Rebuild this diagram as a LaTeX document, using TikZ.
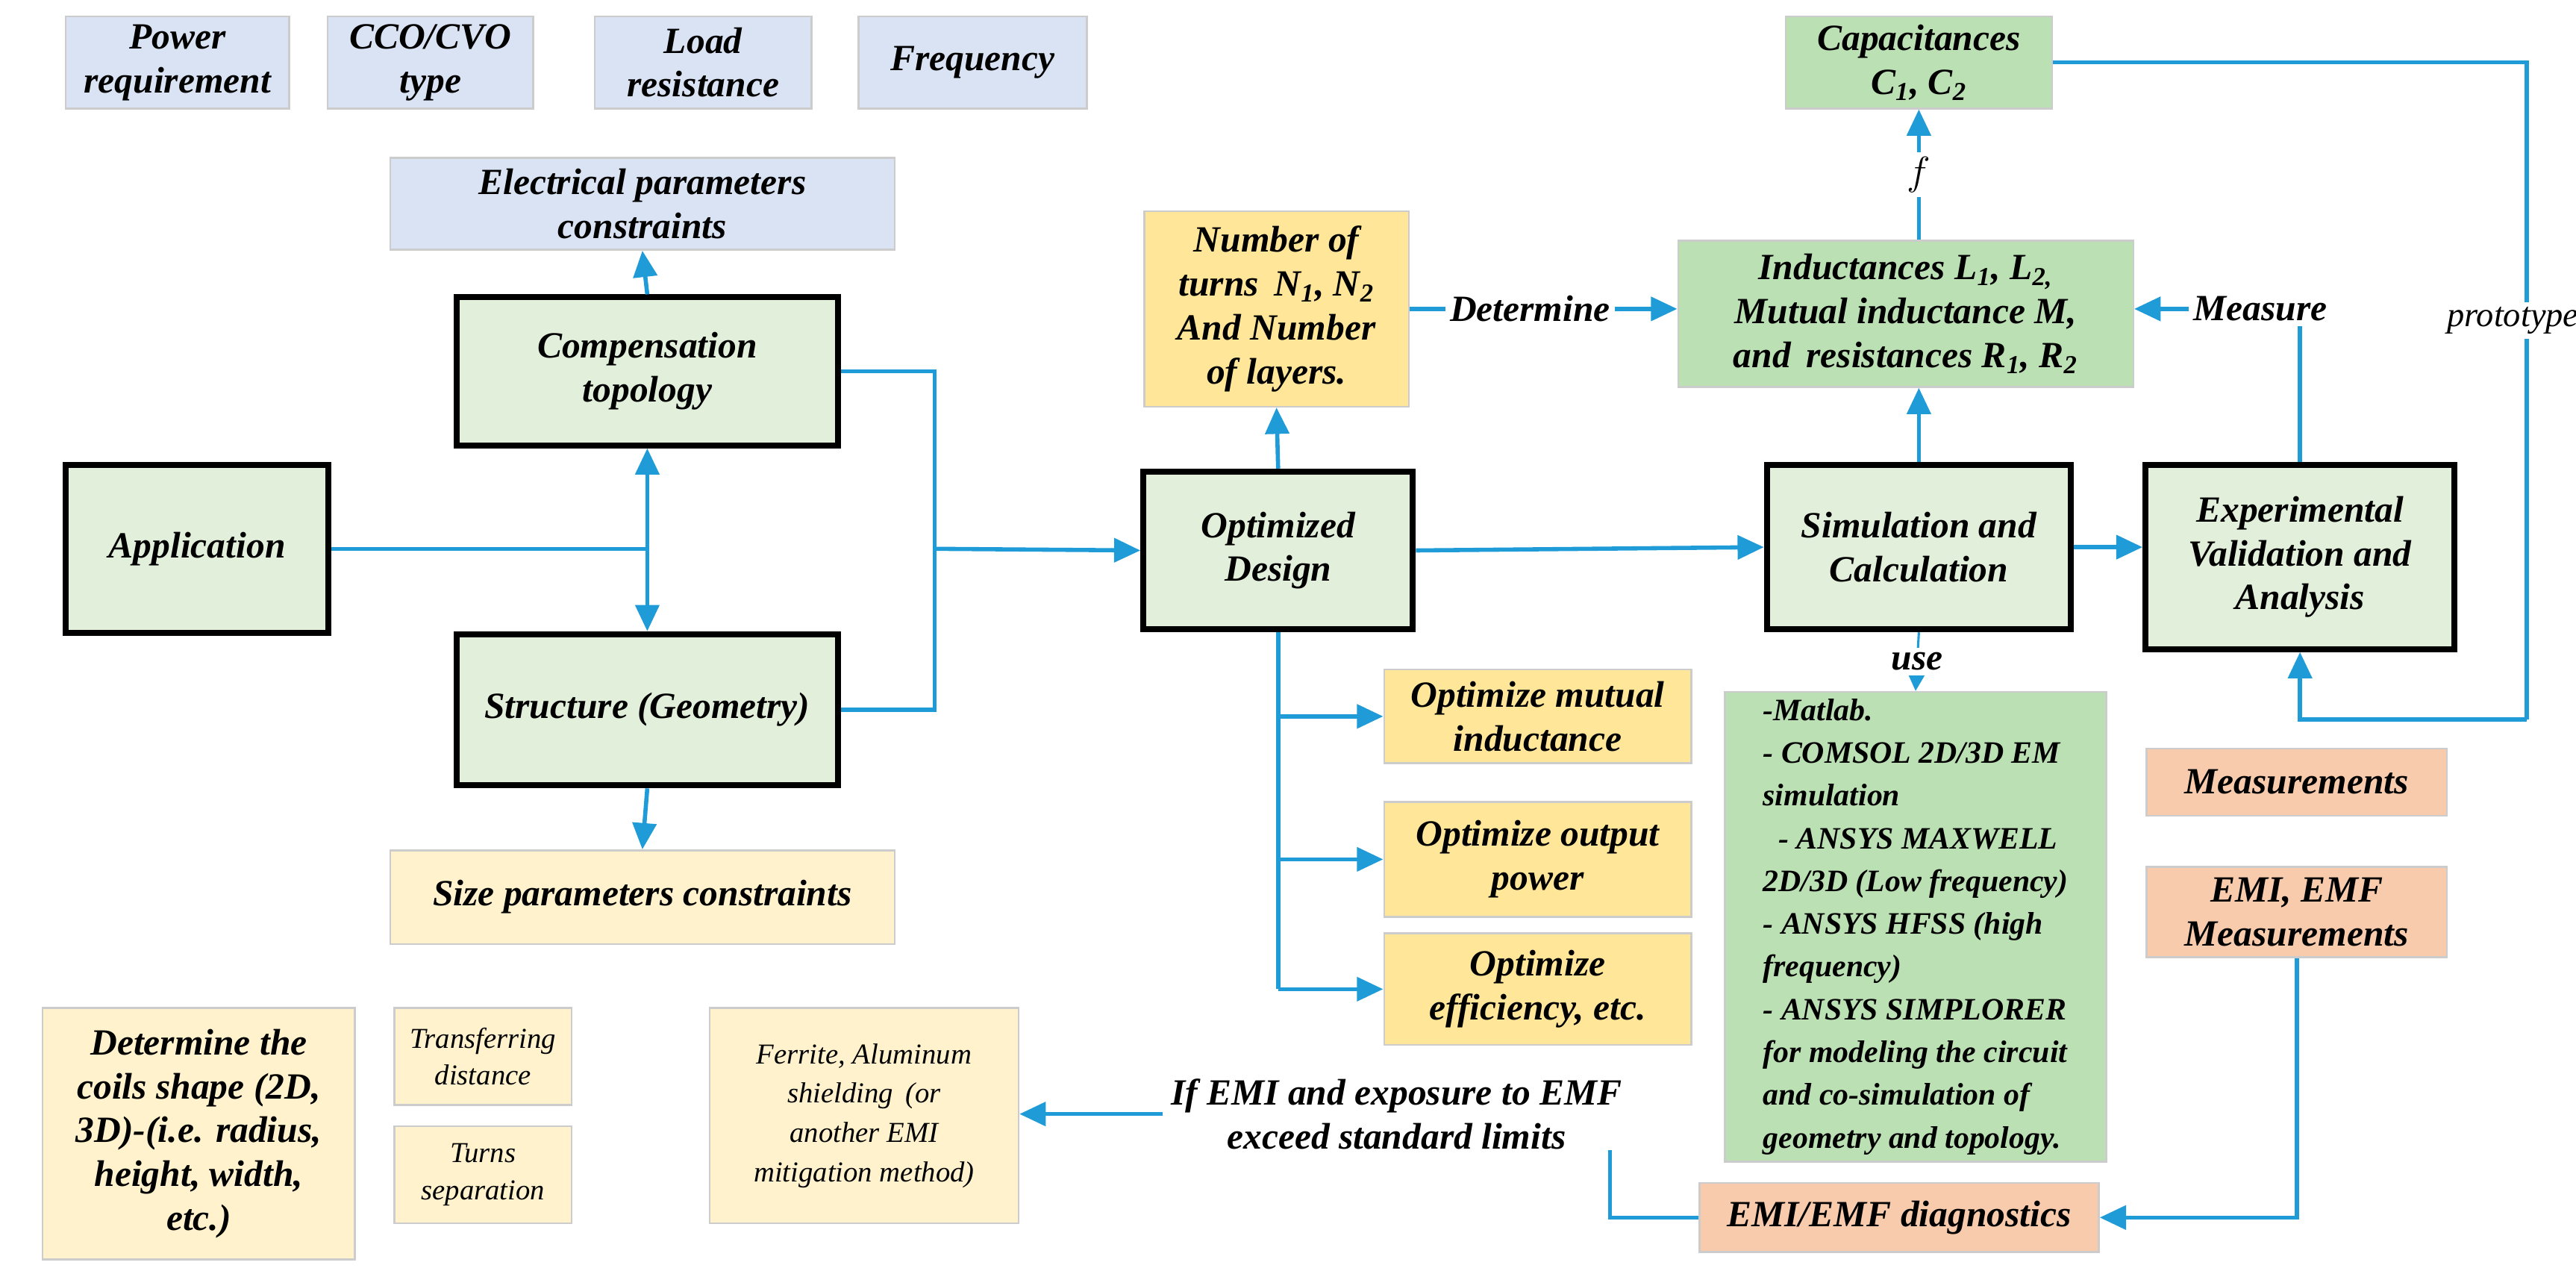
\documentclass[tikz,border=0pt]{standalone}
\usepackage{fontspec}
\setmainfont{Liberation Serif}
\usetikzlibrary{arrows.meta,positioning,calc}
\definecolor{linkblue}{HTML}{1F9BD7}
\definecolor{paleblue}{HTML}{DAE3F3}
\definecolor{palegreen}{HTML}{E2EFDA}
\definecolor{midgreen}{HTML}{BBE0B3}
\definecolor{gold}{HTML}{FFE699}
\definecolor{paleyellow}{HTML}{FFF2CC}
\definecolor{salmon}{HTML}{F8CBAD}
\begin{document}
\begin{tikzpicture}[
  x=0.025cm, y=-0.025cm,
  every node/.style={font=\fontsize{16}{19}\selectfont\bfseries\itshape},
  box/.style={draw=black!20, line width=0.8pt, align=center, inner sep=3pt},
  mainbox/.style={draw=black, line width=2.6pt, fill=palegreen, align=center},
  link/.style={draw=linkblue, line width=1.8pt},
  arrow/.style={link, -{Triangle[length=4mm,width=3.6mm]}},
  lbl/.style={fill=white, text=black, inner sep=2pt}
]
\useasboundingbox (0,0) rectangle (1568,775);
% input parameters
\node[box, fill=paleblue, minimum width=3.4cm, minimum height=1.4cm] (pow) at (108,38) {Power\\requirement};
\node[box, fill=paleblue, minimum width=3.125cm, minimum height=1.4cm] (cco) at (262,38) {CCO/CVO\\type};
\node[box, fill=paleblue, minimum width=3.3cm, minimum height=1.4cm] (load) at (428,38) {Load\\resistance};
\node[box, fill=paleblue, minimum width=3.475cm, minimum height=1.4cm] (freq) at (592,38) {Frequency};
\node[box, fill=paleblue, minimum width=7.675cm, minimum height=1.4cm] (elec) at (391,124) {Electrical parameters\\constraints};
% main blocks
\node[mainbox, minimum width=5.8cm, minimum height=2.25cm] (comp) at (394,226) {Compensation\\topology};
\node[mainbox, minimum width=4cm, minimum height=2.55cm] (app) at (120,334) {Application};
\node[mainbox, minimum width=5.8cm, minimum height=2.3cm] (struct) at (394,432) {Structure (Geometry)};
\node[box, fill=paleyellow, minimum width=7.675cm, minimum height=1.425cm] (size) at (391,546) {Size parameters constraints};
\node[mainbox, minimum width=4.1cm, minimum height=2.4cm] (opt) at (778,335) {Optimized\\Design};
\node[box, fill=gold, minimum width=4.025cm, minimum height=2.975cm] (turns) at (777,188) {Number of\\turns\, N\textsubscript{1}, N\textsubscript{2}\\And Number\\of layers.};
\node[box, fill=midgreen, minimum width=6.925cm, minimum height=2.225cm] (ind) at (1160,191) {Inductances L\textsubscript{1}, L\textsubscript{2,}\\Mutual inductance M,\\and\, resistances R\textsubscript{1}, R\textsubscript{2}};
\node[box, fill=midgreen, minimum width=4.05cm, minimum height=1.4cm] (cap) at (1168,38) {Capacitances\\C\textsubscript{1}, C\textsubscript{2}};
\node[mainbox, minimum width=4.625cm, minimum height=2.5cm] (sim) at (1168,333) {Simulation and\\Calculation};
\node[mainbox, minimum width=4.7cm, minimum height=2.8cm] (exp) at (1400,339) {Experimental\\Validation and\\Analysis};
% optimization targets
\node[box, fill=gold, minimum width=4.675cm, minimum height=1.425cm] (om) at (936,436) {Optimize mutual\\inductance};
\node[box, fill=gold, minimum width=4.675cm, minimum height=1.75cm] (op) at (936,523) {Optimize output\\power};
\node[box, fill=gold, minimum width=4.675cm, minimum height=1.7cm] (oe) at (936,602) {Optimize\\efficiency, etc.};
% tools and measurements
\node[box, fill=midgreen, minimum width=5.8cm, minimum height=6.625cm, align=left,
  font=\fontsize{13.5}{18.5}\selectfont\bfseries\itshape] (mat) at (1166,564)
  {-Matlab.\\- COMSOL 2D/3D EM\\simulation\\\ \ - ANSYS MAXWELL\\2D/3D (Low frequency)\\- ANSYS HFSS (high\\frequency)\\- ANSYS SIMPLORER\\for modeling the circuit\\and co-simulation of\\geometry and topology.};
\node[box, fill=salmon, minimum width=4.575cm, minimum height=1.025cm] (meas) at (1398,476) {Measurements};
\node[box, fill=salmon, minimum width=4.575cm, minimum height=1.375cm] (emim) at (1398,555) {EMI, EMF\\Measurements};
\node[box, fill=salmon, minimum width=6.075cm, minimum height=1.05cm] (diag) at (1156,741) {EMI/EMF diagnostics};
% geometry options
\node[box, fill=paleyellow, minimum width=4.75cm, minimum height=3.825cm] (coil) at (121,690) {Determine the\\coils shape (2D,\\3D)-(i.e. radius,\\height, width,\\etc.)};
\node[box, fill=paleyellow, minimum width=2.7cm, minimum height=1.475cm, font=\fontsize{12.5}{16}\selectfont\itshape] (trans) at (294,643) {Transferring\\distance};
\node[box, fill=paleyellow, minimum width=2.7cm, minimum height=1.475cm, font=\fontsize{12.5}{16}\selectfont\itshape] (tsep) at (294,715) {Turns\\separation};
\node[box, fill=paleyellow, minimum width=4.7cm, minimum height=3.275cm, font=\fontsize{12.5}{17}\selectfont\itshape] (ferr) at (526,679) {Ferrite, Aluminum\\shielding\, (or\\another EMI\\mitigation method)};
\node[align=center] (lim) at (850,678) {If EMI and exposure to EMF\\exceed standard limits};
\coordinate (j) at (569,334);
\coordinate (k) at (980,700);
\coordinate (pr) at (1538,438);
% connectors
\draw[link] (app.east) -- (app.east -| comp.south);
\draw[link, {Triangle[length=4mm,width=3.6mm]}-{Triangle[length=4mm,width=3.6mm]}] (comp.south) -- (struct.north);
\draw[arrow] (comp.north) -- (elec.south);
\draw[arrow] (struct.south) -- (size.north);
\draw[link] (comp.east) -| (j) |- (struct.east);
\draw[arrow] (j) -- (opt.west);
\draw[arrow] (opt.north) -- (turns.south);
\draw[arrow] (turns.east) -- node[lbl, pos=0.45] {Determine} (turns.east -| ind.west);
\draw[arrow] (opt.east) -- (sim.west);
\draw[link] (opt.south) -- ($(opt.south |- oe.west)$);
\foreach \t in {om, op, oe}
  \draw[arrow] (opt.south |- \t.west) -- (\t.west);
\draw[arrow] (sim.north) -- (sim.north |- ind.south);
\draw[arrow] (sim.north |- ind.north) -- node[lbl] {$f$} (cap.south);
\draw[arrow] (sim.east) -- (sim.east -| exp.west);
\draw[arrow] (exp.north) |- node[lbl, pos=0.62] {Measure} (ind.east |- turns.east);
\draw[link] (cap.east) -| (pr);
\draw[arrow] (pr) -| (exp.south);
\node[lbl, font=\fontsize{15}{18}\selectfont\itshape, xshift=-6] (proto) at (1538,195) {prototype};
\draw[linkblue, line width=1pt, -{Triangle[length=3mm,width=3mm]}] (sim.south) -- node[lbl] {use} (mat.north);
\draw[arrow] (emim.south) |- (diag.east);
\draw[link] (diag.west) -| (k);
\draw[arrow] (lim.west) -- (lim.west -| ferr.east);
\end{tikzpicture}
\end{document}
